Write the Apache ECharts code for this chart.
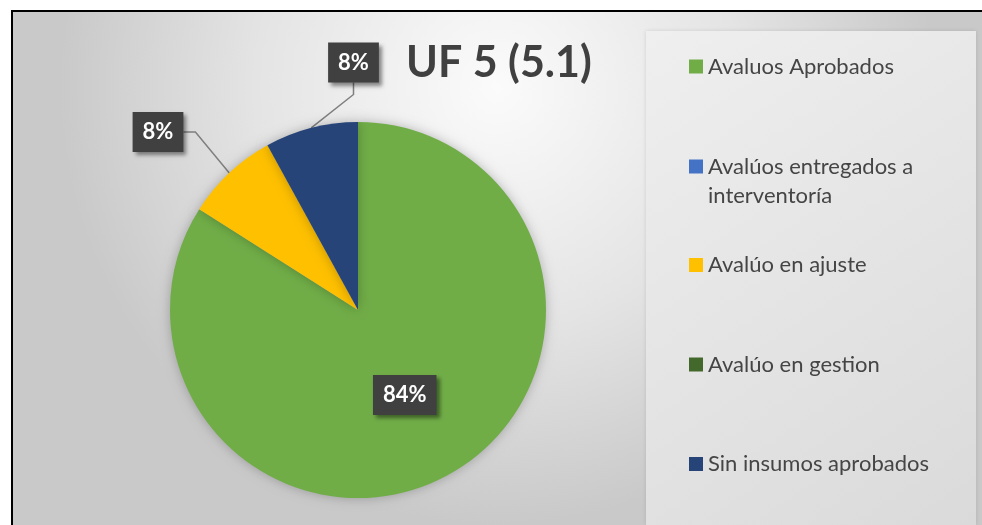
<!DOCTYPE html>
<html>
<head>
<meta charset="utf-8">
<title>UF 5 (5.1)</title>
<script src="https://cdn.jsdelivr.net/npm/echarts@6/dist/echarts.min.js"></script>
<style>
  html, body { margin: 0; padding: 0; background: #fff; }
  #main { width: 982px; height: 525px; }
</style>
</head>
<body>
<div id="main"></div>
<script type="text/javascript">
// --- datos ---
var categories = ['Avaluos Aprobados', 'Avalúos entregados a interventoría', 'Avalúo en ajuste', 'Avalúo en gestion', 'Sin insumos aprobados'];
var values = [21, 0, 2, 0, 2];
var colors = ['#70ad47', '#4472c4', '#ffc000', '#43682b', '#264478'];

var myChart = echarts.init(document.getElementById('main'), null, {renderer: 'canvas'});

var labelBox = {
    color: '#fff',
    fontFamily: 'Lato',
    fontWeight: 'bold',
    fontSize: 22,
    lineHeight: 22,
    backgroundColor: '#404040',
    padding: [9, 10],
    shadowColor: 'rgba(0,0,0,0.45)',
    shadowBlur: 4,
    shadowOffsetX: 3,
    shadowOffsetY: 3
};

var pieData = categories.map(function (name, i) {
    var item = {name: name, value: values[i], itemStyle: {color: colors[i]}};
    if (values[i] === 0) {
        item.label = {show: false};
        item.labelLine = {show: false};
    } else if (i === 0) {
        item.label = {position: 'inside'};
        item.labelLine = {show: false};
    }
    return item;
});

// legend: una por entrada, como en Excel
var legendCenters = [66.5, 166.5, 265, 364.5, 464];
var legends = categories.map(function (name, i) {
    var twoLines = name.indexOf('interventoría') >= 0;
    var lg = {
        data: [name],
        orient: 'vertical',
        left: 689,
        top: twoLines ? legendCenters[i] - 43.5 : legendCenters[i] - 14.5,
        padding: 0,
        icon: 'rect',
        itemWidth: 14,
        itemHeight: 14,
        selectedMode: false,
        textStyle: {
            color: '#454545',
            fontFamily: 'Lato',
            fontSize: 22,
            lineHeight: 29
        }
    };
    if (twoLines) {
        // linea vacia arriba para que la primera linea quede junto al icono
        lg.formatter = function () { return ' \nAvalúos entregados a\ninterventoría'; };
    }
    return lg;
});

myChart.setOption({
    animation: false,
    title: {
        text: 'UF 5 (5.1)',
        left: 406,
        top: 42,
        padding: 0,
        textStyle: {
            color: '#404040',
            fontFamily: 'Lato',
            fontWeight: 'bold',
            fontSize: 43
        }
    },
    graphic: [
        {
            type: 'rect', z: -10, silent: true,
            shape: {x: 11, y: 10, width: 971, height: 515},
            style: {
                fill: {
                    type: 'radial', x: 0.5, y: 0.15, r: 0.85,
                    colorStops: [
                        {offset: 0, color: '#fbfbfb'},
                        {offset: 0.55, color: '#e4e4e4'},
                        {offset: 1, color: '#c9c9c9'}
                    ]
                }
            }
        },
        {
            type: 'rect', z: -9, silent: true,
            shape: {x: 646, y: 31, width: 330, height: 494},
            style: {
                fill: {
                    type: 'linear', x: 0, y: 0, x2: 1, y2: 1,
                    colorStops: [
                        {offset: 0, color: '#efefef'},
                        {offset: 1, color: '#dadada'}
                    ]
                },
                shadowColor: 'rgba(0,0,0,0.12)',
                shadowBlur: 4
            }
        },
        {
            type: 'polyline', z: 10, silent: true,
            shape: {points: [[12, 525], [12, 11], [982, 11]]},
            style: {stroke: '#000', lineWidth: 2, fill: null}
        }
    ],
    legend: legends,
    series: [{
        type: 'pie',
        center: [358, 310],
        radius: 188,
        startAngle: 90,
        clockwise: true,
        avoidLabelOverlap: false,
        itemStyle: {
            shadowColor: 'rgba(0,0,0,0.25)',
            shadowBlur: 12
        },
        label: Object.assign({
            show: true,
            position: 'outside',
            formatter: function (p) { return Math.round(p.percent) + '%'; }
        }, labelBox),
        labelLine: {
            show: true,
            length: 40,
            length2: 12,
            lineStyle: {color: '#7f7f7f', width: 1.5}
        },
        labelLayout: function (params) {
            if (params.dataIndex === 2) {
                return {x: 158, y: 132, align: 'center', verticalAlign: 'middle'};
            }
            if (params.dataIndex === 4) {
                return {x: 353.5, y: 62.5, align: 'center', verticalAlign: 'middle'};
            }
            return {};
        },
        emphasis: {disabled: true},
        data: pieData
    }]
});
</script>
</body>
</html>
